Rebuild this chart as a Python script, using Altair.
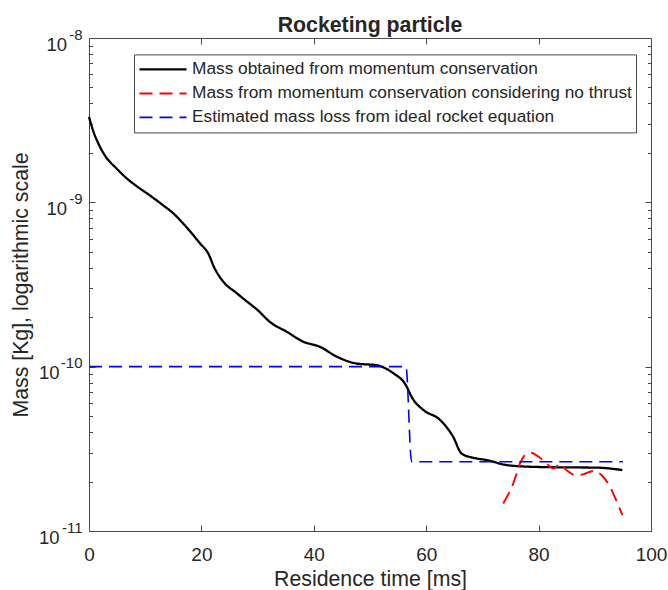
import altair as alt
import pandas as pd

SERIES = [
    "Mass obtained from momentum conservation",
    "Mass from momentum conservation considering no thrust",
    "Estimated mass loss from ideal rocket equation",
]
COLORS = ["#000000", "#ff0000", "#0000ff"]
DASHES = [[1, 0], [13, 7], [13, 7]]
WIDTHS = [2.3, 1.6, 1.6]

# Black: mass obtained from momentum conservation
black_t = [0, 0.7, 1.8, 3.0, 4.8, 6.6, 8.4, 10.7, 13, 15, 17, 18.3, 19.8, 21.2, 22.3,
           23.3, 24.2, 26, 27.8, 30, 32.2, 35.2, 38.1, 41.1, 44.1, 47.6, 51.2, 54.2,
           56.2, 57.7, 59.5, 62.5, 64.8, 66.3, 68.4, 70.8, 74.3, 78.5, 84.4, 90.3, 94.9]
black_m = [3.31e-9, 2.75e-9, 2.23e-9, 1.89e-9, 1.62e-9, 1.41e-9, 1.26e-9, 1.11e-9,
           0.97e-9, 8.57e-10, 7.28e-10, 6.47e-10, 5.6e-10, 4.9e-10, 4.0e-10,
           3.5e-10, 3.2e-10, 2.85e-10, 2.54e-10, 2.21e-10, 1.87e-10, 1.63e-10,
           1.42e-10, 1.32e-10, 1.15e-10, 1.045e-10, 1.02e-10, 9.1e-11, 7.9e-11,
           6.3e-11, 5.45e-11, 4.73e-11, 3.74e-11, 2.96e-11, 2.79e-11, 2.70e-11,
           2.52e-11, 2.46e-11, 2.44e-11, 2.43e-11, 2.35e-11]

# Red: mass from momentum conservation considering no thrust
red_t = [73.7, 75.5, 76.7, 77.6, 78.6, 80.0, 81.4, 82.6, 83.8, 85.0, 86.5, 87.9,
         89.7, 91.2, 92.7, 93.9, 94.9]
red_m = [1.47e-11, 1.95e-11, 2.58e-11, 2.9e-11, 2.99e-11, 2.83e-11, 2.58e-11,
         2.40e-11, 2.55e-11, 2.34e-11, 2.19e-11, 2.21e-11, 2.32e-11, 2.19e-11,
         1.86e-11, 1.51e-11, 1.25e-11]

# Blue: estimated mass loss from ideal rocket equation
blue_t = [0, 56.4, 57.4, 95]
blue_m = [1e-10, 1e-10, 2.64e-11, 2.64e-11]

x_ticks = [0, 20, 40, 60, 80, 100]
x_inner_ticks = [20, 40, 60, 80]
y_major = [1e-11, 1e-10, 1e-9, 1e-8]
y_base_label = "10"
y_exponents = ["-11", "-10", "-9", "-8"]
y_minor = [k * 10.0 ** e for e in (-11, -10, -9) for k in range(2, 10)]

FONT = "Liberation Sans, Arial, Helvetica, sans-serif"
FRAME = "#4a4a4a"
TXT = "#262626"

rows = []
for name, ts, ms in zip(SERIES, [black_t, red_t, blue_t], [black_m, red_m, blue_m]):
    for i, (t, m) in enumerate(zip(ts, ms)):
        rows.append({"series": name, "t": t, "m": m, "i": i})
df = pd.DataFrame(rows)

# label expression for the exponents
exp_expr = "''"
for v, lab in reversed(list(zip(y_major, y_exponents))):
    exp_expr = f"datum.value < {v * 1.5} ? '{lab}' : ({exp_expr})"

xs = alt.Scale(type="linear", domain=[0, 100], nice=False, zero=False)
ys = alt.Scale(type="log", domain=[1e-11, 1e-8], nice=False)

common = dict(domain=False, grid=False, tickColor=FRAME, tickWidth=1,
              labelFont=FONT, labelColor=TXT, titleFont=FONT, titleColor=TXT,
              titleFontWeight="normal")
bare = {k: v for k, v in common.items()
        if not k.startswith("label") and not k.startswith("title")}

ax_bottom = alt.Axis(orient="bottom", values=x_ticks, tickSize=6, offset=-6,
                     labelPadding=14, labelFontSize=19, labelFlush=False,
                     labelOverlap=False, format="d",
                     title="Residence time [ms]", titleFontSize=21.3,
                     titleX=281, titleY=60.7, titleBaseline="alphabetic",
                     titleAlign="center", **common)
ax_left = alt.Axis(orient="left", values=y_major, tickSize=6, offset=-6,
                   labels=False,
                   title="Mass [Kg], logarithmic scale", titleFontSize=21.3,
                   titleX=-68, titleY=246.5, titleAngle=270,
                   titleBaseline="alphabetic", titleAlign="center", **common)

legend = alt.Legend(title=None, orient="none", legendX=45, legendY=16.4,
                    symbolType="stroke", symbolSize=2209, symbolStrokeWidth=2,
                    clipHeight=22, rowPadding=2, padding=4, labelOffset=4,
                    labelFontSize=17.3, labelFont=FONT, labelColor=TXT,
                    labelLimit=700, strokeColor=FRAME, fillColor="white",
                    symbolOpacity=1)

lines = alt.Chart(df).mark_line(interpolate="monotone").encode(
    x=alt.X("t:Q", scale=xs, axis=ax_bottom),
    y=alt.Y("m:Q", scale=ys, axis=ax_left),
    color=alt.Color("series:N", scale=alt.Scale(domain=SERIES, range=COLORS),
                    legend=legend),
    strokeDash=alt.StrokeDash("series:N",
                              scale=alt.Scale(domain=SERIES, range=DASHES),
                              legend=legend),
    strokeWidth=alt.StrokeWidth("series:N",
                                scale=alt.Scale(domain=SERIES, range=WIDTHS),
                                legend=None),
    order="i:Q",
)


def tick_layer(xaxis, yaxis):
    return alt.Chart(df).mark_point(opacity=0).encode(
        x=alt.X("t:Q", scale=xs, axis=xaxis),
        y=alt.Y("m:Q", scale=ys, axis=yaxis),
    )


minor_kw = dict(labels=False, title=None, **bare)
label_kw = dict(ticks=True, tickSize=0, tickOpacity=0, title=None,
                labelFont=FONT, labelColor=TXT, labelAlign="right",
                labelBaseline="middle", labelOverlap=False, labelFlush=False,
                labelBound=False, domain=False, grid=False)

left_minor = tick_layer(None, alt.Axis(orient="left", values=y_minor, tickSize=3.5,
                                       offset=-3.5, **minor_kw))
right_major = tick_layer(None, alt.Axis(orient="right", values=y_major, tickSize=6,
                                        offset=-6, **minor_kw))
right_minor = tick_layer(None, alt.Axis(orient="right", values=y_minor, tickSize=3.5,
                                        offset=-3.5, **minor_kw))
top_major = tick_layer(alt.Axis(orient="top", values=x_inner_ticks, tickSize=6,
                                offset=-6, **minor_kw), None)

# "10" bases (short exponents -8, -9 and long exponents -10, -11)
base_short = tick_layer(None, alt.Axis(orient="left", values=y_major[2:],
                                       labelExpr=f"'{y_base_label}'",
                                       labelFontSize=18.5, labelPadding=22.5,
                                       labelOffset=6, **label_kw))
base_long = tick_layer(None, alt.Axis(orient="left", values=y_major[:2],
                                      labelExpr=f"'{y_base_label}'",
                                      labelFontSize=18.5, labelPadding=30,
                                      labelOffset=6, **label_kw))
exponents = tick_layer(None, alt.Axis(orient="left", values=y_major,
                                      labelExpr=exp_expr, labelFontSize=15,
                                      labelPadding=7, labelOffset=-4, **label_kw))

chart = alt.layer(lines, left_minor, right_major, right_minor, top_major,
                  base_short, base_long, exponents).resolve_axis(
    x="independent", y="independent"
).properties(
    width=562,
    height=493,
    title=alt.TitleParams("Rocketing particle", frame="group", anchor="middle",
                          baseline="alphabetic", offset=7, dy=33, fontSize=21.3,
                          fontWeight="bold", font=FONT, color=TXT),
    autosize=alt.AutoSizeParams(type="none"),
    padding={"left": 89, "top": 38, "right": 17, "bottom": 59},
    background="white",
).configure_view(stroke=FRAME, strokeWidth=1)

chart.save("out.html", embed_options={"renderer": "svg", "actions": False})
